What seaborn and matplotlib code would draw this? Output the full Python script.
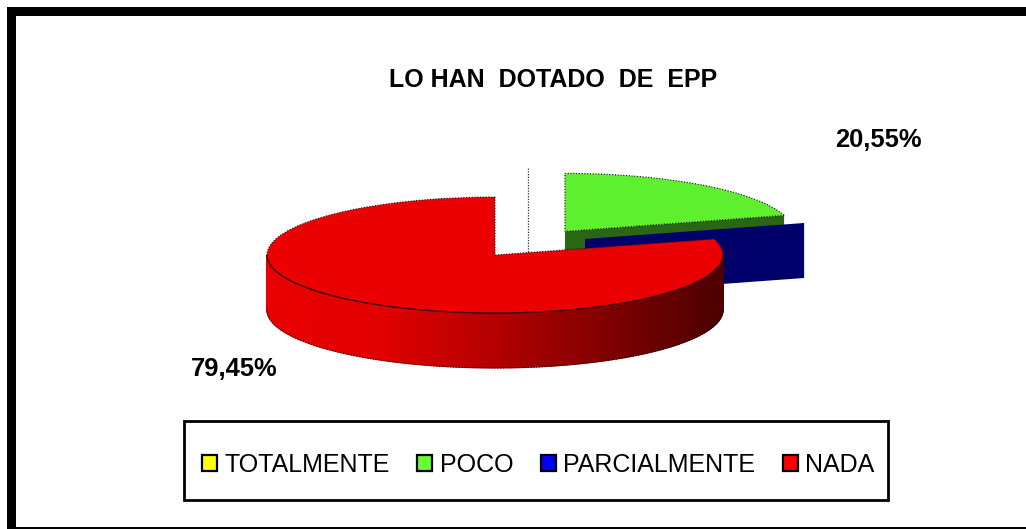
import numpy as np
import matplotlib
matplotlib.use('Agg')
import matplotlib.pyplot as plt
import seaborn as sns
from matplotlib.colors import ListedColormap
from matplotlib.patches import Patch, Rectangle

categories = ['TOTALMENTE', 'POCO', 'PARCIALMENTE', 'NADA']
values = [0, 20.55, 0, 79.45]
title_text = 'LO HAN  DOTADO  DE  EPP'

legend_colors = ['#ffff00', '#66ff33', '#0000ff', '#ff0000']
top_colors = ['#ffff00', '#5eef2e', '#00006a', '#ea0000']
green_wall = '#2a6614'
navy_wall = '#00006a'

W, H = 1026, 529
cx, cy, rx, ry = 495, 255, 228, 58
depth = 55 / ry

sns.set_theme(style='white')
plt.rcParams['font.family'] = ['Liberation Sans', 'DejaVu Sans']


def to_fig(x, y):
    return x / W, 1 - y / H


def box(x0, y0, x1, y1, **kw):
    # rectangle given in picture pixels
    fig.add_artist(Rectangle((x0 / W, 1 - y1 / H), (x1 - x0) / W, (y1 - y0) / H,
                             transform=fig.transFigure, **kw))


def pct(v):
    return f'{v:.2f}'.replace('.', ',') + '%'


fig = plt.figure(figsize=(W / 100, H / 100), dpi=100, facecolor='white')
ax = fig.add_axes([0, 0, 1, 1])

wedges, _ = ax.pie(values, colors=top_colors, startangle=90, counterclock=False,
                   explode=[0, 0.51, 0, 0], radius=1,
                   wedgeprops={'edgecolor': '#111111', 'linewidth': 0.8, 'linestyle': (0, (1, 1.5))})
ax.set_aspect('auto')
ax.set_xlim(-cx / rx, (W - cx) / rx)
ax.set_ylim((cy - H) / ry, cy / ry)
ax.axis('off')

green, red = wedges[1], wedges[3]
wedges[0].set_visible(False)
wedges[2].set_visible(False)
green.set_zorder(3)
red.set_zorder(6)

# empty slice at the top shows only as a dotted edge
yellow_center = (33 / rx, 29 / ry)
ax.plot([yellow_center[0]] * 2, [yellow_center[1] + 1, yellow_center[1] - depth],
        color='#333333', lw=0.9, ls=(0, (1, 1.2)), zorder=1)

# green cut wall
gx, gy = green.center
a = np.radians(green.theta1)
tip = (gx + np.cos(a), gy + np.sin(a))
ax.fill([gx, tip[0], tip[0], gx], [gy, tip[1], tip[1] - depth, gy - depth],
        color=green_wall, lw=0, zorder=2)

# empty PARCIALMENTE slice, only its wall is visible
bx, by = 90 / rx, 16 / ry
a = np.radians(red.theta2)
bt = (bx + np.cos(a), by + np.sin(a))
ax.fill([bx, bt[0], bt[0], bx], [by, bt[1], bt[1] - depth, by - depth],
        color=navy_wall, lw=0, zorder=4)

# red side with the shading going dark to the right
theta = np.radians(np.linspace(180, 360, 241))
xs = np.cos(theta)
ys = np.sin(theta)
pal = sns.blend_palette(['#e80000', '#e20000', '#b40000', '#800000', '#4c0000'], 256)
ax.pcolormesh(np.vstack([xs, xs]), np.vstack([ys, ys - depth]), np.vstack([xs, xs]),
              cmap=ListedColormap(pal), shading='gouraud', zorder=5)
ax.plot(xs, ys, color='#3a0000', lw=0.9, zorder=7)
ax.plot(xs, ys - depth, color='#111111', lw=0.8, ls=(0, (1, 1.5)), zorder=7)

# outer frame, cut off by the right and lower picture edges
box(7, 7, W + 10, H + 10, facecolor='black', lw=0, zorder=-2)
box(16, 16, W + 10, 526.7, facecolor='white', lw=0, zorder=-1)
# legend frame
box(184, 421, 888, 500, facecolor='none', edgecolor='black', lw=2, zorder=5)

fig.text(*to_fig(553.5, 80), title_text, ha='center', va='center',
         fontsize=18, fontweight='bold', color='black')
fig.text(*to_fig(878, 140), pct(values[1]), ha='center', va='center',
         fontsize=18.4, fontweight='bold', color='black')
fig.text(*to_fig(234, 369), pct(values[3]), ha='center', va='center',
         fontsize=18.4, fontweight='bold', color='black')

handles = [Patch(facecolor=c, edgecolor='black', lw=1.6) for c in legend_colors]
fig.legend(handles, categories, ncol=4, loc='center',
           bbox_to_anchor=to_fig(538, 465), fontsize=18, frameon=False,
           labelcolor='black', handlelength=0.6, handleheight=0.6, handletextpad=0.3,
           columnspacing=1.1, borderpad=0, labelspacing=0)

plt.savefig('out.png', dpi=100, facecolor='white')
plt.close()
